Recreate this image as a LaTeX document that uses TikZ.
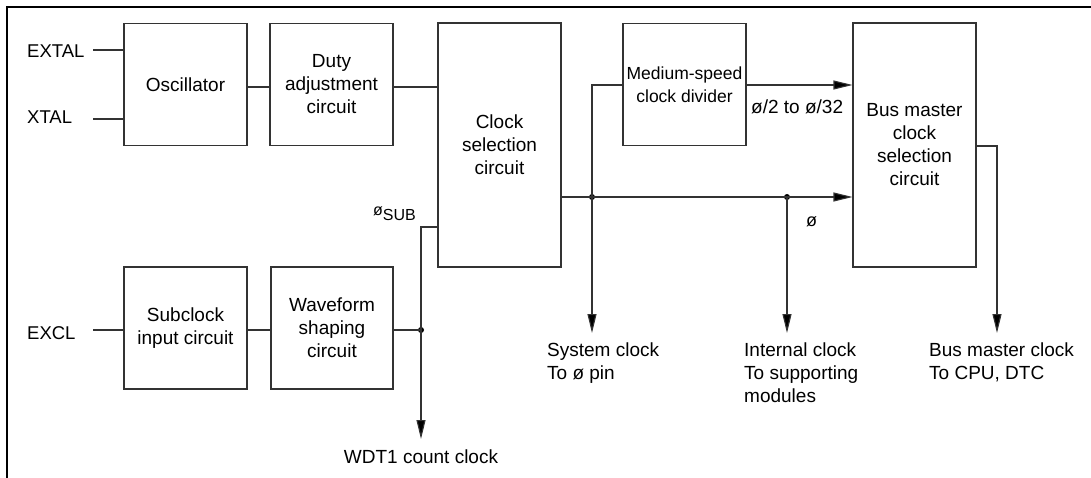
\documentclass[tikz,border=0pt]{standalone}
\usepackage{fontspec}
\setmainfont{Liberation Sans}
\usetikzlibrary{arrows.meta}
\definecolor{lc}{HTML}{333333}
\begin{document}
\begin{tikzpicture}[x=1pt,y=-1pt,
  blk/.style={draw=lc, line width=1.1pt, minimum width=123pt, inner sep=0pt,
    align=center, font=\fontsize{19}{23}\selectfont},
  wire/.style={draw=lc, line width=1.1pt},
  arr/.style={wire, -{Triangle[length=19pt,width=9pt,fill=black]}},
  lbl/.style={inner sep=0pt, font=\fontsize{19}{23}\selectfont, align=left},
  pin/.style={inner sep=0pt, font=\fontsize{18.5}{22}\selectfont},
  jdot/.style={circle, fill=black, inner sep=0pt, minimum size=6pt}]
\useasboundingbox (0,0) rectangle (1091,478);
\draw[line width=2.2pt] (1091,7) -- (7,7) -- (7,478);

% blocks
\node[blk, minimum height=122pt] (osc) at (185.5,84.5) {Oscillator};
\node[blk, minimum height=122pt] (duty) at (331.5,84.5) {Duty\\adjustment\\circuit};
\node[blk, minimum height=244pt] (clk) at (499.5,145) {Clock\\selection\\circuit};
\node[blk, minimum height=122pt, font=\fontsize{17.5}{23}\selectfont] (med) at (684.5,84.5) {Medium-speed\\clock divider};
\node[blk, minimum height=244pt] (bus) at (914.5,145) {Bus master\\clock\\selection\\circuit};
\node[blk, minimum height=122pt] (sub) at (185.5,328) {Subclock\\input circuit};
\node[blk, minimum height=122pt, minimum width=122pt] (wave) at (332,328) {Waveform\\shaping\\circuit};

% pin labels
\node[pin, anchor=west] (extal) at (27,51) {EXTAL};
\node[pin, anchor=west] (xtal) at (27,117.5) {XTAL};
\node[pin, anchor=west] (excl) at (27,333) {EXCL};
\coordinate (e1) at (93,50);
\coordinate (e2) at (93,119);
\coordinate (e3) at (93,330);
\draw[wire] (e1) -- (e1 -| osc.west);
\draw[wire] (e2) -- (e2 -| osc.west);
\draw[wire] (e3) -- (e3 -| sub.west);

% upper chain
\coordinate (c87) at (400,87);
\draw[wire] (c87 -| osc.east) -- (c87 -| duty.west);
\draw[wire] (c87 -| duty.east) -- (c87 -| clk.west);

% sub clock chain
\draw[wire] (e3 -| sub.east) -- (e3 -| wave.west);
\node[jdot] (d0) at (421,330) {};
\draw[wire] (e3 -| wave.east) -- (d0.center);
\coordinate (sj) at (421,227);
\coordinate (wt) at (421,439);
\draw[arr] (sj -| clk.west) -- (sj) -- (wt);
\node[inner sep=0pt, anchor=base west, font=\fontsize{16}{18}\selectfont] (phisub) at (373,216) {ø\raisebox{-4.5pt}{SUB}};
\node[lbl, anchor=center] (wdt) at (421,457) {WDT1 count clock};

% main clock line
\node[jdot] (ds) at (592,197) {};
\node[jdot] (di) at (787,197) {};
\draw[arr] (ds -| clk.east) -- (ds -| bus.west);
\node[inner sep=0pt, anchor=base west, font=\fontsize{18}{20}\selectfont] (phi) at (806,227) {ø};

% medium speed divider
\coordinate (sm) at (592,85);
\coordinate (st) at (592,333);
\draw[arr] (sm -| med.west) -- (sm) -- (st);
\draw[arr] (sm -| med.east) -- (sm -| bus.west);
\node[lbl, anchor=base west] (div) at (751,113.5) {ø/2 to ø/32};

% internal clock
\draw[arr] (di.center) -- (di |- st);

% bus master output
\coordinate (bo) at (997,146);
\draw[arr] (bo -| bus.east) -- (bo) -- (bo |- st);

% output labels
\node[lbl, anchor=north west] (sys) at (547,343) {System clock\\To ø pin};
\node[lbl, anchor=north west] (int) at (744,343) {Internal clock\\To supporting\\modules};
\node[lbl, anchor=north west] (bmc) at (929,343) {Bus master clock\\To CPU, DTC};
\end{tikzpicture}
\end{document}
